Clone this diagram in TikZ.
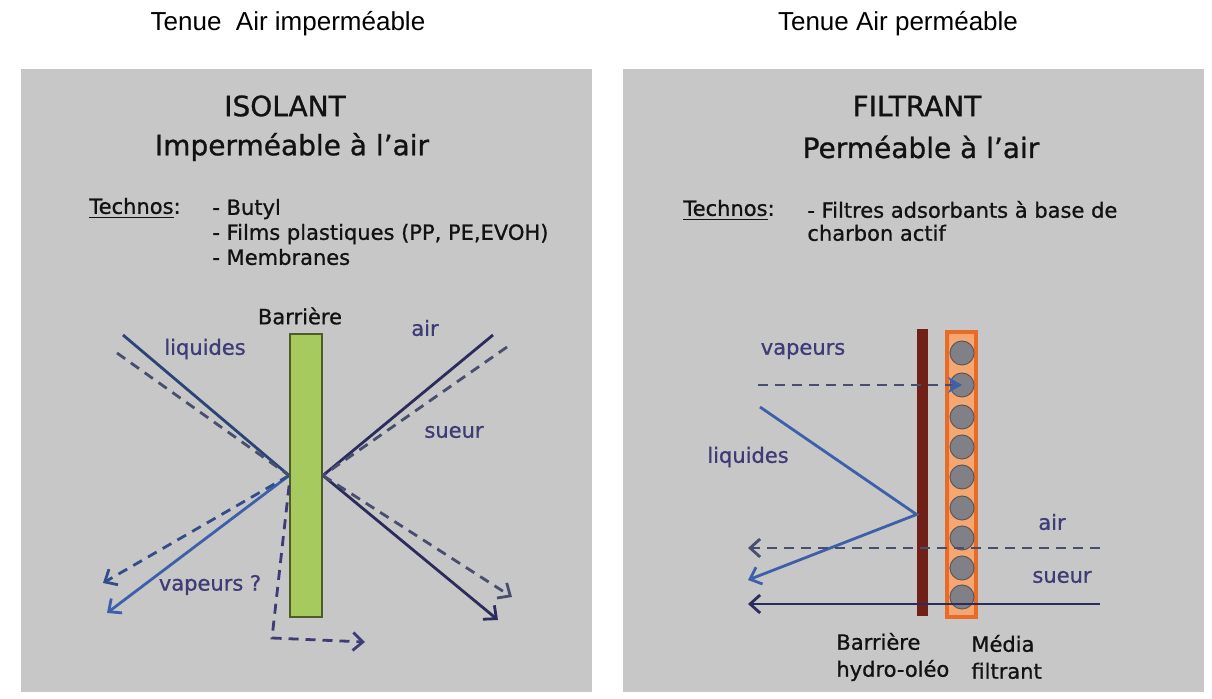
\documentclass[tikz,border=0pt]{standalone}
\usepackage{fontspec}
\setmainfont{DejaVu Sans}[FakeBold=0.9]
\newfontfamily\titlefont{Liberation Sans}
\usetikzlibrary{positioning,arrows.meta}
\definecolor{panelcolor}{RGB}{199,199,199}
\definecolor{barcolor}{RGB}{166,202,94}
\definecolor{barline}{RGB}{78,92,40}
\definecolor{hydrocolor}{RGB}{112,32,22}
\definecolor{mediacolor}{RGB}{246,166,112}
\definecolor{medialine}{RGB}{232,108,40}
\definecolor{graincolor}{RGB}{128,128,134}
\definecolor{liqcolor}{RGB}{62,96,170}
\definecolor{fluxcolor}{RGB}{44,44,92}
\definecolor{dashcolor}{RGB}{72,78,110}
\definecolor{labelcolor}{RGB}{62,60,118}
\definecolor{textcolor}{RGB}{18,18,18}

\begin{document}
\begin{tikzpicture}[x=0.5pt, y=-0.5pt, >={Straight Barb[length=5pt,width=9pt]}]
  % Styles of the two panels
  \tikzset{
    panel/.style={rectangle, fill=panelcolor, minimum height=311.5pt, inner sep=0pt},
    titletext/.style={font=\titlefont\fontsize{13}{15}\selectfont, text=black, inner sep=0pt},
    headtext/.style={font=\fontsize{14}{16}\selectfont, text=textcolor, inner sep=0pt},
    techno/.style={font=\fontsize{10.5}{12.5}\selectfont, text=textcolor, anchor=west, align=left, inner sep=0pt},
    flowlabel/.style={font=\fontsize{10.5}{12}\selectfont, text=labelcolor, inner sep=0pt},
    caption/.style={font=\fontsize{10.5}{13.5}\selectfont, text=textcolor, anchor=west, align=left, inner sep=0pt},
    barriere/.style={rectangle, draw=barline, fill=barcolor, line width=0.9pt, minimum width=16pt, minimum height=141.5pt, inner sep=0pt},
    hydro/.style={rectangle, fill=hydrocolor, minimum width=5.5pt, minimum height=143.5pt, inner sep=0pt},
    media/.style={rectangle, draw=medialine, fill=mediacolor, line width=1.6pt, minimum width=14.5pt, minimum height=142.5pt, inner sep=0pt},
    grain/.style={circle, draw=graincolor!70!black, fill=graincolor, line width=0.5pt, minimum size=12pt, inner sep=0pt},
    liq/.style={line width=1.4pt, color=liqcolor},
    flux/.style={line width=1.4pt, color=fluxcolor},
    fluxdash/.style={line width=1.4pt, color=dashcolor, dash pattern=on 5pt off 3.5pt}
  }
  \useasboundingbox (0,0) rectangle (1212,699);

  % Panels and titles
  \node[panel, minimum width=285.5pt] (isopanel) at (306.5,380.5) {};
  \node[panel, minimum width=290.5pt] (filpanel) at (913.5,380.5) {};
  \node[titletext] (isotitle) at (288,24) {Tenue\ \ Air imperméable};
  \node[titletext] (filtitle) at (898,24) {Tenue Air perméable};

  % Isolant: texts
  \node[headtext] (isohead) at (285,106) {ISOLANT};
  \node[headtext] (isosub) at (292,147) {Imperméable à l’air};
  \node[techno] (isotech) at (89,208) {\underline{Technos}:};
  \node[techno] (isolist) at (212,232) {- Butyl\\- Films plastiques (PP, PE,EVOH)\\- Membranes};

  % Isolant: barrier and flows
  \node[barriere] (isobar) at (306,475.5) {};
  \coordinate (liqin) at (123,335);
  \coordinate (liqdashin) at (117,353);
  \coordinate (liqout) at (107,613);
  \coordinate (vapout) at (103,583);
  \coordinate (vapcorner) at (272,638);
  \coordinate (vapend) at (365,642);
  \coordinate (airin) at (493,335);
  \coordinate (airdashin) at (507,347);
  \coordinate (sueurout) at (498,620);
  \coordinate (sueurdashout) at (512,597);
  \draw[flux, color=liqcolor!70!black] (liqin) -- (isobar.west);
  \draw[fluxdash] (liqdashin) -- (isobar.west);
  \draw[liq, ->] (isobar.west) -- (liqout);
  \draw[fluxdash, color=liqcolor!80!black, ->] (isobar.west) -- (vapout);
  \draw[fluxdash, color=labelcolor, ->] ([yshift=-5pt]isobar.west) -- (vapcorner) -- (vapend);
  \draw[flux] (airin) -- (isobar.east);
  \draw[fluxdash] (airdashin) -- (isobar.east);
  \draw[flux, ->] (isobar.east) -- (sueurout);
  \draw[fluxdash, ->] (isobar.east) -- (sueurdashout);
  \node[flowlabel, text=textcolor] (isobarlbl) at (300,316) {Barrière};
  \node[flowlabel] (isoair) at (425,328) {air};
  \node[flowlabel] (isoliq) at (205,349) {liquides};
  \node[flowlabel] (isosueur) at (454,432) {sueur};
  \node[flowlabel] (isovap) at (210,585) {vapeurs ?};

  % Filtrant: texts
  \node[headtext] (filhead) at (917,106) {FILTRANT};
  \node[headtext] (filsub) at (921,147) {Perméable à l’air};
  \node[techno] (filtech) at (683,210) {\underline{Technos}:};
  \node[techno, font=\fontsize{10.5}{11.5}\selectfont] (fillist) at (807,221) {- Filtres adsorbants à base de\\charbon actif};

  % Filtrant: barrier, media and flows
  \node[hydro] (hydro) at (922.5,472.5) {};
  \node[media] (media) at (961.5,474.5) {};
  \foreach \i/\y in {1/353,2/385,3/417,4/447,5/477,6/508,7/538,8/568,9/597}
    \node[grain] (g\i) at (962,\y) {};
  \coordinate (filvapin) at (758,385);
  \coordinate (filliqin) at (760,407);
  \coordinate (filliqout) at (748,580);
  \coordinate (filairin) at (1100,548);
  \coordinate (filairout) at (748,548);
  \coordinate (filsueurin) at (1100,604);
  \coordinate (filsueurout) at (748,604);
  \draw[fluxdash, -{Stealth[length=7pt,width=8pt,color=liqcolor]}] (filvapin) -- (g2.center);
  \draw[liq, ->] (filliqin) -- ([yshift=-21pt]hydro.west) -- (filliqout);
  \draw[fluxdash, ->] (filairin) -- (filairout);
  \draw[flux, ->] (filsueurin) -- (filsueurout);
  \node[flowlabel] (filvap) at (803,351) {vapeurs};
  \node[flowlabel] (filliq) at (748,457) {liquides};
  \node[flowlabel] (filair) at (1052,522) {air};
  \node[flowlabel] (filsueur) at (1062,577) {sueur};
  \node[caption] (hydrolbl) at (836,657) {Barrière\\hydro-oléo};
  \node[caption] (medialbl) at (971,657) {Média\\filtrant};
\end{tikzpicture}
\end{document}
